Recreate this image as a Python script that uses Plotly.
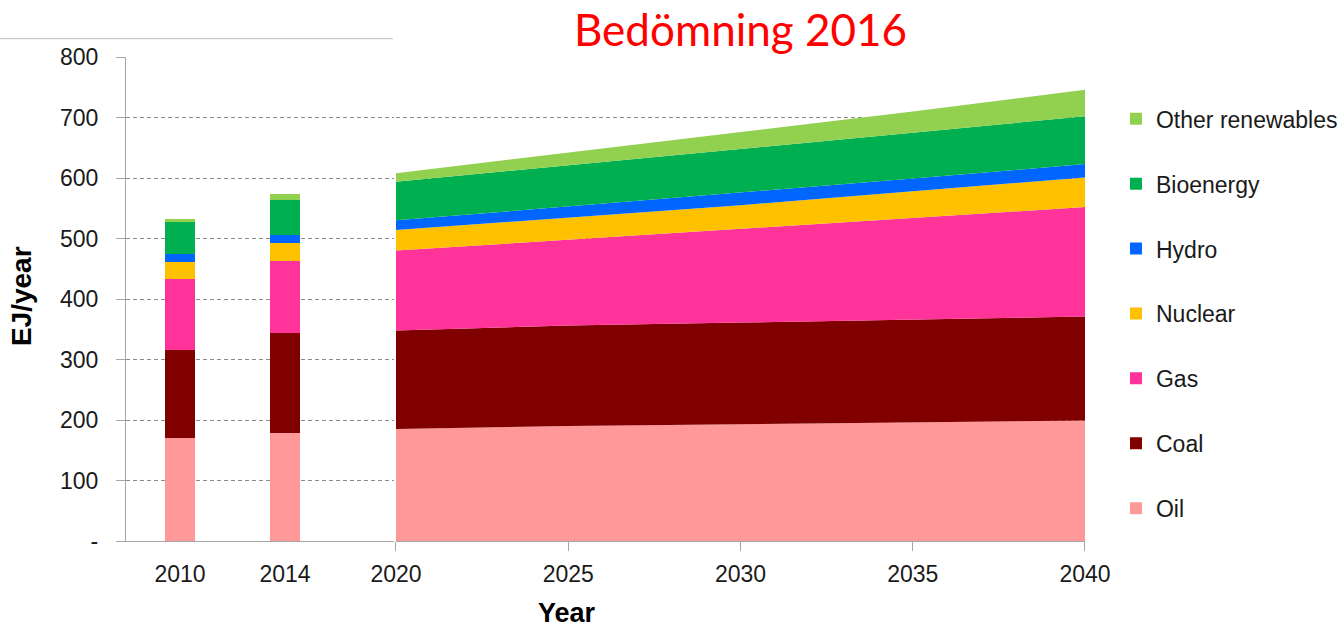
import plotly.graph_objects as go

# ---------------- data (EJ/year) ----------------
hist_years = ["2010", "2014"]
proj_years = [2020, 2025, 2030, 2035, 2040]

series_names = ["Oil", "Coal", "Gas", "Nuclear", "Hydro", "Bioenergy", "Other renewables"]

oil_hist = [171, 178]
coal_hist = [145, 165]
gas_hist = [117, 120]
nuclear_hist = [28, 29]
hydro_hist = [13, 13]
bio_hist = [53, 59]
other_hist = [6, 9]

oil_proj = [185, 190, 193, 196, 199]
coal_proj = [163, 166, 168, 170, 172]
gas_proj = [132, 142, 154, 167, 181]
nuclear_proj = [34, 37, 40, 45, 49]
hydro_proj = [16, 18, 20, 21, 22]
bio_proj = [64, 68, 72, 75, 79]
other_proj = [14, 21, 29, 36, 44]

y_ticks = [0, 100, 200, 300, 400, 500, 600, 700, 800]
y_ticktext = ["-", "100", "200", "300", "400", "500", "600", "700", "800"]

colors = ["#FF9999", "#800000", "#FF3399", "#FFC000", "#0066FF", "#00B050", "#92D050"]

hist_values = [oil_hist, coal_hist, gas_hist, nuclear_hist, hydro_hist, bio_hist, other_hist]
proj_values = [oil_proj, coal_proj, gas_proj, nuclear_proj, hydro_proj, bio_proj, other_proj]

FONT = "Liberation Sans, Arial, sans-serif"
GREY = "#A6A6A6"

fig = go.Figure()
n = len(series_names)
for i, (name, col, hv, pv) in enumerate(zip(series_names, colors, hist_values, proj_values)):
    fig.add_trace(go.Bar(
        x=hist_years, y=hv, name=name, marker=dict(color=col, line=dict(width=0)),
        legendgroup=name, legendrank=n - i, xaxis="x", yaxis="y",
    ))
    fig.add_trace(go.Scatter(
        x=proj_years, y=pv, name=name, mode="lines", stackgroup="proj",
        line=dict(width=0, color=col), fillcolor=col,
        legendgroup=name, legendrank=n - i, showlegend=False, xaxis="x2", yaxis="y",
    ))

fig.update_layout(
    width=1340, height=628,
    margin=dict(l=126, r=255, t=57, b=87, pad=0, autoexpand=False),
    paper_bgcolor="white", plot_bgcolor="white",
    barmode="stack", bargap=0.714,
    font=dict(family=FONT, size=23, color="#1a1a1a"),
    showlegend=True,
    legend=dict(
        x=1.0323, y=0.9167, xanchor="left", yanchor="top",
        font=dict(family=FONT, size=23, color="#1a1a1a"),
        traceorder="grouped", tracegroupgap=32, itemwidth=30,
        bgcolor="rgba(0,0,0,0)",
    ),
    xaxis=dict(
        domain=[0, 0.2795], type="category", range=[-0.514, 2.038],
        showline=True, linecolor=GREY, linewidth=1.3,
        ticks="outside", ticklen=9, tickcolor="rgba(0,0,0,0)",
        ticklabelstandoff=3,
        tickfont=dict(family=FONT, size=23, color="#1a1a1a"),
        showgrid=False, zeroline=False, anchor="y", fixedrange=True,
    ),
    xaxis2=dict(
        domain=[0.2815, 1], range=[2020, 2040], tickvals=proj_years,
        showline=True, linecolor=GREY, linewidth=1.3,
        ticks="outside", ticklen=9, tickcolor=GREY, tickwidth=1.3,
        ticklabelstandoff=3,
        tickfont=dict(family=FONT, size=23, color="#1a1a1a"),
        showgrid=False, zeroline=False, anchor="y",
    ),
    yaxis=dict(
        range=[0, 800], tickvals=y_ticks, ticktext=y_ticktext,
        showline=True, linecolor=GREY, linewidth=1.3,
        ticks="outside", ticklen=9, tickcolor=GREY, tickwidth=1.3,
        ticklabelstandoff=13,
        tickfont=dict(family=FONT, size=23, color="#1a1a1a"),
        showgrid=True, gridcolor="#8C8C8C", gridwidth=1, griddash="4px,3px",
        zeroline=False, anchor="x",
    ),
    shapes=[dict(
        type="line", xref="paper", yref="paper",
        x0=-0.1314, x1=0.2784, y0=1.0379, y1=1.0379,
        line=dict(color="#BFBFBF", width=1),
    )],
    annotations=[
        dict(text="Bedömning 2016", xref="paper", yref="paper",
             x=0.6403, y=1.0585, xanchor="center", yanchor="middle", showarrow=False,
             font=dict(family="Lato, Open Sans, sans-serif", size=44, color="#FF0000")),
        dict(text="<b>EJ/year</b>", xref="paper", yref="paper",
             x=-0.1095, y=0.506, xanchor="center", yanchor="middle", showarrow=False,
             textangle=-90, font=dict(family=FONT, size=28, color="#000000")),
        dict(text="<b>Year</b>", xref="paper", yref="paper",
             x=0.4599, y=-0.148, xanchor="center", yanchor="middle", showarrow=False,
             font=dict(family=FONT, size=27, color="#000000")),
    ],
)

fig.write_html(
    "out.html",
    config={"displayModeBar": False},
    post_script="document.body.style.margin='0';document.body.style.overflow='hidden';",
)
